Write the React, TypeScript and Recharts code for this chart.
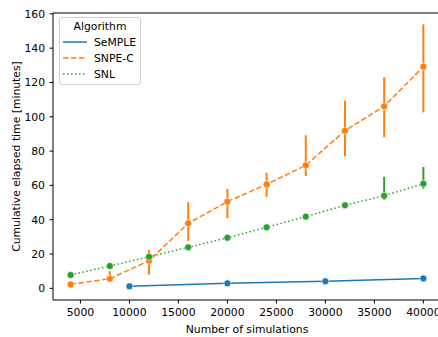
import {
  ComposedChart,
  Line,
  XAxis,
  YAxis,
  ErrorBar,
  ReferenceLine,
} from "recharts";

const FONT = "'DejaVu Sans', sans-serif";
const FS = 10.8;

// x values (number of simulations)
const semplePoints = [10000, 20000, 30000, 40000];
const seqPoints = [4000, 8000, 12000, 16000, 20000, 24000, 28000, 32000, 36000, 40000];

// cumulative elapsed time [minutes], mean and CI bounds
const sempleMean = [1.2, 2.9, 4.1, 5.8];
const sempleLow = [1.0, 2.6, 3.8, 4.5];
const sempleHigh = [1.4, 3.2, 4.4, 7.2];

const snpeMean = [2.3, 5.6, 16.1, 37.9, 50.5, 60.6, 71.7, 91.9, 106.1, 129.2];
const snpeLow = [1.8, 4.6, 8.0, 27.6, 40.8, 53.4, 65.5, 77.0, 88.1, 102.6];
const snpeHigh = [2.8, 10.0, 22.4, 50.3, 57.9, 67.4, 89.2, 109.4, 123.0, 153.9];

const snlMean = [7.8, 13.0, 18.4, 23.9, 29.5, 35.6, 41.8, 48.4, 54.0, 61.0];
const snlLow = [7.3, 12.3, 17.0, 23.2, 28.8, 34.7, 40.3, 47.0, 51.5, 58.1];
const snlHigh = [8.3, 13.7, 19.8, 24.6, 30.2, 36.5, 43.3, 49.9, 65.0, 70.7];

const xTicks = [5000, 10000, 15000, 20000, 25000, 30000, 35000, 40000];
const yTicks = [0, 20, 40, 60, 80, 100, 120, 140, 160];
const yTop = 160.5;

function build(xs: number[], mean: number[], low: number[], high: number[]) {
  return xs.map((x, i) => ({
    x,
    y: mean[i],
    err: [mean[i] - low[i], high[i] - mean[i]],
  }));
}

const series = [
  { name: "SeMPLE", color: "#1f77b4", dash: undefined, data: build(semplePoints, sempleMean, sempleLow, sempleHigh) },
  { name: "SNPE-C", color: "#ff7f0e", dash: "5.5 2.4", data: build(seqPoints, snpeMean, snpeLow, snpeHigh) },
  { name: "SNL", color: "#2ca02c", dash: "1.5 2.5", data: build(seqPoints, snlMean, snlLow, snlHigh) },
];

function LegendBox() {
  return (
    <div
      style={{
        position: "absolute",
        left: 59,
        top: 17,
        width: 80,
        height: 66,
        border: "1px solid #d0d0d0",
        borderRadius: 3,
        background: "rgba(255,255,255,0.8)",
        fontFamily: FONT,
        fontSize: FS,
        color: "#000",
      }}
    >
      <div style={{ textAlign: "center", marginTop: 2, lineHeight: "14px" }}>Algorithm</div>
      {series.map((s) => (
        <div key={s.name} style={{ display: "flex", alignItems: "center", height: 16 }}>
          <svg width={34} height={16}>
            <line x1={3} x2={27} y1={8} y2={8} stroke={s.color} strokeWidth={1.5} strokeDasharray={s.dash} />
          </svg>
          <span>{s.name}</span>
        </div>
      ))}
    </div>
  );
}

export default function App() {
  return (
    <div style={{ position: "absolute", left: 0, top: 0, width: 438, height: 337, overflow: "hidden", background: "#fff" }}>
      <ComposedChart width={446} height={337} margin={{ top: 13, right: 5, left: 0, bottom: 0 }}>
        <XAxis
          type="number"
          dataKey="x"
          domain={[2200, 41800]}
          ticks={xTicks}
          allowDataOverflow
          height={37}
          stroke="#000"
          tickSize={3.5}
          tickMargin={5}
          tick={{ fontSize: FS, fill: "#000", fontFamily: FONT }}
          label={{ value: "Number of simulations", position: "insideBottom", offset: 4, style: { fontSize: FS, fill: "#000", fontFamily: FONT } }}
        />
        <YAxis
          type="number"
          domain={[-6.8, yTop]}
          ticks={yTicks}
          allowDataOverflow
          width={53}
          stroke="#000"
          tickSize={3.5}
          tickMargin={4.5}
          tick={{ fontSize: FS, fill: "#000", fontFamily: FONT }}
          label={{
            value: "Cumulative elapsed time [minutes]",
            angle: -90,
            position: "insideLeft",
            offset: 16,
            style: { fontSize: FS, fill: "#000", fontFamily: FONT, textAnchor: "middle" },
          }}
        />
        <ReferenceLine y={yTop} stroke="#000" strokeWidth={1} />
        {series.map((s) => (
          <Line
            key={s.name}
            data={s.data}
            dataKey="y"
            name={s.name}
            stroke={s.color}
            strokeWidth={1.5}
            strokeDasharray={s.dash}
            dot={{ r: 3.5, fill: s.color, stroke: "#fff", strokeWidth: 0.6, strokeDasharray: "" }}
            isAnimationActive={false}
          >
            <ErrorBar dataKey="err" direction="y" width={0} stroke={s.color} strokeWidth={2} />
          </Line>
        ))}
      </ComposedChart>
      <LegendBox />
    </div>
  );
}
